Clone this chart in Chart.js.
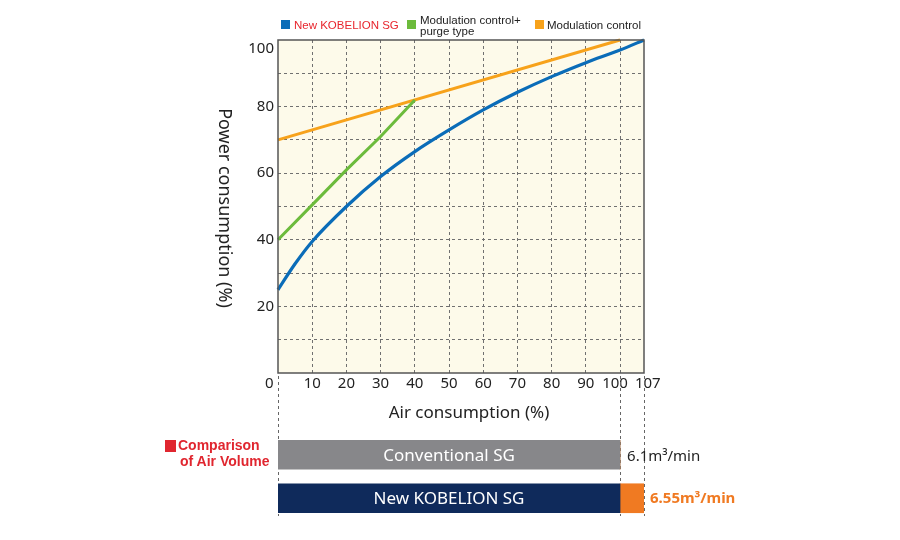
<!DOCTYPE html>
<html><head><meta charset="utf-8">
<script src="https://cdn.jsdelivr.net/npm/chart.js@4.4.0/dist/chart.umd.min.js"></script>
<style>
html,body{margin:0;padding:0;background:#fff;}
#wrap{position:relative;width:900px;height:540px;overflow:hidden;font-family:"Noto Sans",sans-serif;color:#222;}
canvas{position:absolute;left:0;top:0;}
.sw{position:absolute;width:9px;height:9px;}
.lg{position:absolute;font-family:"Liberation Sans",Arial,sans-serif;font-size:11.5px;line-height:11px;color:#222;white-space:nowrap;}
#ytitle{position:absolute;left:106px;top:196px;width:240px;height:24px;line-height:24px;text-align:center;font-size:18px;transform:rotate(90deg);transform-origin:50% 50%;white-space:nowrap;}
#xtitle{position:absolute;left:349px;top:400px;width:240px;height:24px;line-height:24px;text-align:center;font-size:17px;white-space:nowrap;}
#cmp{position:absolute;left:178px;top:437px;font-family:"Liberation Sans",Arial,sans-serif;font-weight:bold;font-size:14px;line-height:16px;color:#e0262f;white-space:nowrap;}
#cmp span{padding-left:2px;}
#cmpsq{position:absolute;left:165px;top:440px;width:11px;height:12px;background:#e0262f;}
</style></head>
<body><div id="wrap">
<canvas id="c1" width="900" height="540"></canvas>
<canvas id="c2" width="900" height="540"></canvas>
<div class="sw" style="left:281px;top:20px;background:#0a6cb8"></div>
<div class="lg" style="left:294px;top:20px;color:#e8262e">New KOBELION SG</div>
<div class="sw" style="left:407px;top:20px;background:#6cbb3c"></div>
<div class="lg" style="left:420px;top:15px;">Modulation control+<br>purge type</div>
<div class="sw" style="left:535px;top:20px;background:#f7a21b"></div>
<div class="lg" style="left:547px;top:20px;">Modulation control</div>
<div id="ytitle">Power consumption (%)</div>
<div id="xtitle">Air consumption (%)</div>
<div id="cmpsq"></div>
<div id="cmp">Comparison<br><span>of Air Volume</span></div>
</div>
<script>
// ---- data ----
const xTicks = [0,10,20,30,40,50,60,70,80,90,100,107];
const yTicks = [20,40,60,80,100];
const kobelionX = [0,5,10,20,30,40,50,60,70,80,90,100,107];
const kobelionY = [25,32.8,39.5,50,59,66.5,73,79,84.3,89,93.2,97,100];
const purgeX = [0,10,20,30,40];
const purgeY = [40,50.5,61,71,82];
const modX = [0,100];
const modY = [70,100];
const seriesNames = ['New KOBELION SG','Modulation control+purge type','Modulation control'];
const barCategories = ['Conventional SG','New KOBELION SG'];
const baseVolume = [100,100];
const extraVolume = [0,7];
const volumeLabels = ['6.1m³/min','6.55m³/min'];

Chart.defaults.font.family = '"Noto Sans", sans-serif';
const pts = (xs,ys)=>xs.map((x,i)=>({x:x,y:ys[i]}));

const frame = {
  id:'frame',
  beforeDraw(ch){
    const a=ch.chartArea, c=ch.ctx;
    c.save(); c.fillStyle='#fdfaea'; c.fillRect(a.left,a.top,a.right-a.left,a.bottom-a.top); c.restore();
  },
  afterDraw(ch){
    const a=ch.chartArea, c=ch.ctx, xs=ch.scales.x;
    c.save();
    c.strokeStyle='#666'; c.lineWidth=1; c.setLineDash([3,3]);
    [0,100,107].forEach(v=>{
      const px=Math.round(xs.getPixelForValue(v))+0.5;
      c.beginPath(); c.moveTo(px,a.bottom+3); c.lineTo(px,516); c.stroke();
    });
    c.setLineDash([]);
    c.strokeStyle='#555'; c.lineWidth=1.5;
    c.strokeRect(a.left,a.top,a.right-a.left,a.bottom-a.top);
    c.restore();
  }
};

new Chart(document.getElementById('c1'),{
  type:'line',
  data:{datasets:[
    {label:seriesNames[0],data:pts(kobelionX,kobelionY),borderColor:'#0a6cb8',borderWidth:3.2,pointRadius:0,cubicInterpolationMode:'monotone',fill:false,clip:4},
    {label:seriesNames[1],data:pts(purgeX,purgeY),borderColor:'#6cbb3c',borderWidth:3,pointRadius:0,fill:false,clip:4},
    {label:seriesNames[2],data:pts(modX,modY),borderColor:'#f7a21b',borderWidth:3,pointRadius:0,fill:false,clip:4}
  ]},
  options:{
    responsive:false,animation:false,
    layout:{padding:{left:238,right:256,top:40,bottom:127}},
    plugins:{legend:{display:false},tooltip:{enabled:false}},
    scales:{
      x:{type:'linear',min:0,max:107,
        afterBuildTicks:s=>{s.ticks=xTicks.map(v=>({value:v}));},
        afterFit:s=>{s.height=40;},
        ticks:{autoSkip:false,maxRotation:0,minRotation:0,padding:2,color:'#222',font:{size:15},
          callback:v=> v===0?'0\u2003\u2009':(v===100?'100\u2002\u2009':(v===107?'\u2002107':String(v)))},
        grid:{drawTicks:false,lineWidth:1,color:c=>(c.tick&&(c.tick.value===0||c.tick.value===107))?'rgba(0,0,0,0)':'#707070'},
        border:{display:false,dash:[3,3]}
      },
      y:{min:0,max:100,
        afterFit:s=>{s.width=40;},
        ticks:{stepSize:10,autoSkip:false,padding:4,color:'#222',font:{size:15},
          callback:v=> v===100?['','100']:(yTicks.includes(v)?String(v):'')},
        grid:{drawTicks:false,lineWidth:1,color:c=>(c.tick&&(c.tick.value===0||c.tick.value===100))?'rgba(0,0,0,0)':'#707070'},
        border:{display:false,dash:[3,3]}
      }
    }
  },
  plugins:[frame]
});

const barText = {
  id:'barText',
  afterDatasetsDraw(ch){
    const c=ch.ctx, m0=ch.getDatasetMeta(0), m1=ch.getDatasetMeta(1);
    c.save();
    c.textBaseline='middle';
    m0.data.forEach((b,i)=>{
      c.fillStyle='#fff'; c.textAlign='center'; c.font='17px "Noto Sans", sans-serif';
      c.fillText(barCategories[i],(b.base+b.x)/2,b.y+1);
    });
    m1.data.forEach((b,i)=>{
      c.textAlign='left';
      if(i===0){c.fillStyle='#222'; c.font='15px "Noto Sans", sans-serif'; c.fillText(volumeLabels[i],b.x+7,b.y+2);}
      else {c.fillStyle='#f07a22'; c.font='bold 15px "Noto Sans", sans-serif'; c.fillText(volumeLabels[i],b.x+6,b.y);}
    });
    c.restore();
  }
};

new Chart(document.getElementById('c2'),{
  type:'bar',
  data:{labels:barCategories,datasets:[
    {label:'Air volume',data:baseVolume,backgroundColor:['#87878a','#0f2a5b'],barThickness:29,borderWidth:0},
    {label:'Extra',data:extraVolume,backgroundColor:'#f07a22',barThickness:29,borderWidth:0}
  ]},
  options:{
    indexAxis:'y',responsive:false,animation:false,
    layout:{padding:{left:278,right:256,top:433,bottom:20}},
    plugins:{legend:{display:false},tooltip:{enabled:false}},
    scales:{x:{type:'linear',min:0,max:107,stacked:true,display:false},y:{stacked:true,display:false}}
  },
  plugins:[barText]
});
</script>
</body></html>
